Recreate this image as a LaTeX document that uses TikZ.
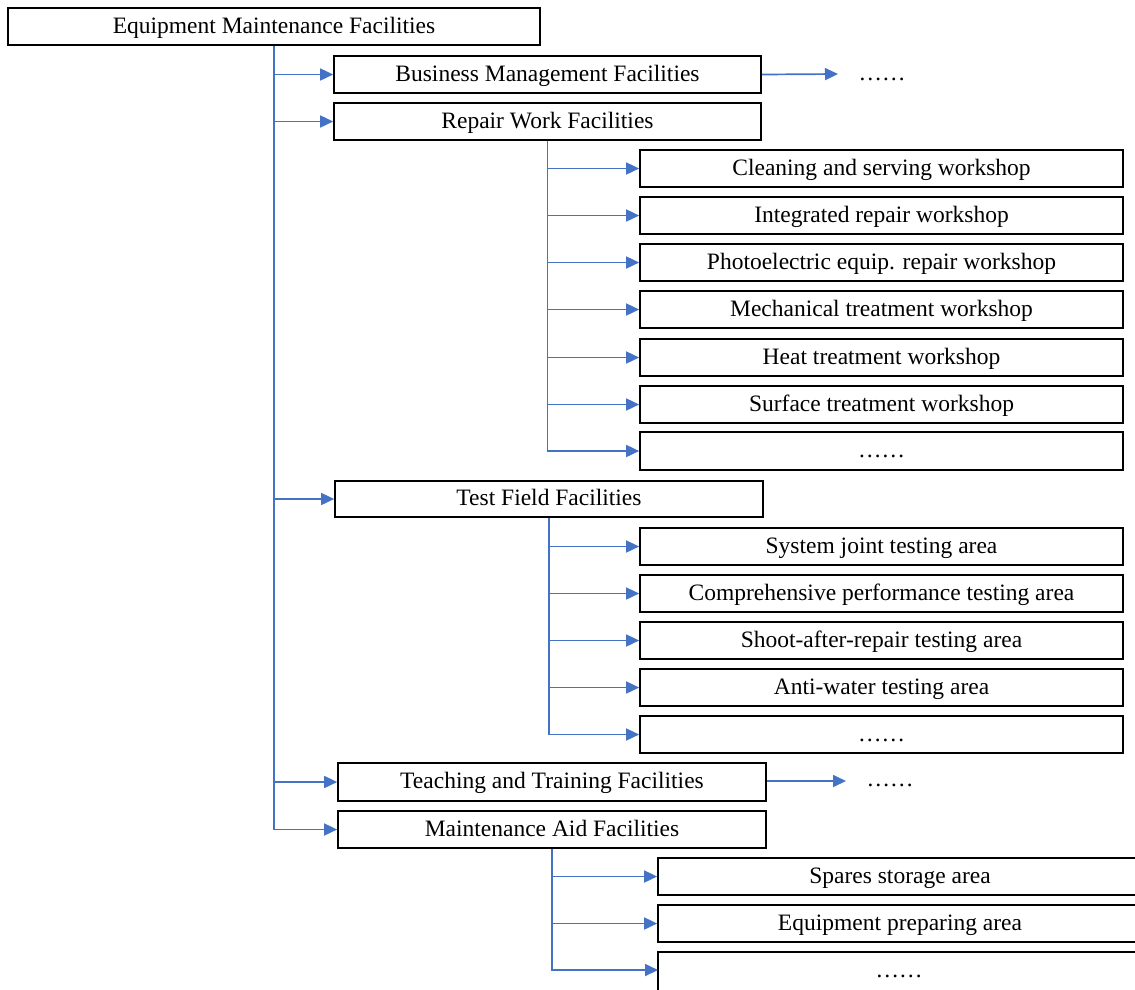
\documentclass[tikz,border=0pt]{standalone}
\usepackage{fontspec}
\setmainfont{Liberation Serif}
\usetikzlibrary{arrows.meta}
\definecolor{lblue}{RGB}{68,114,196}
\begin{document}
\begin{tikzpicture}[x=1pt,y=-1pt,
  box/.style={draw=black,line width=1.7pt,inner sep=0pt,align=center,font=\fontsize{23.5}{28}\selectfont,text height=17.6pt,text depth=4.6pt},
  conn/.style={draw=lblue,line width=1.7pt,-{Triangle[length=13pt,width=12pt]}},
  dots/.style={anchor=base,inner sep=0pt,font=\fontsize{23.5}{28}\selectfont}]
\useasboundingbox (0,0) rectangle (1135,989);
\clip (0,0) rectangle (1135,989);
\newcommand{\bx}[6]{\node[box,minimum width={#4-#2},minimum height={#5-#3}] (#1) at ({(#2+#4)/2},{(#3+#5)/2}) {#6};}
\bx{root}{8}{8}{540}{45}{Equipment Maintenance Facilities}
\bx{bm}{334}{56}{761}{93}{Business Management Facilities}
\bx{rw}{334}{103}{761}{140}{Repair Work Facilities}
\bx{r1}{640}{150}{1123}{187}{Cleaning and serving workshop}
\bx{r2}{640}{197}{1123}{234}{Integrated repair workshop}
\bx{r3}{640}{244}{1123}{281}{Photoelectric equip. repair workshop}
\bx{r4}{640}{291}{1123}{328}{Mechanical treatment workshop}
\bx{r5}{640}{339}{1123}{376}{Heat treatment workshop}
\bx{r6}{640}{386}{1123}{423}{Surface treatment workshop}
\bx{r7}{640}{432}{1123}{470}{……}
\bx{tf}{335}{481}{763}{517}{Test Field Facilities}
\bx{t1}{640}{528}{1123}{565}{System joint testing area}
\bx{t2}{640}{575}{1123}{612}{Comprehensive performance testing area}
\bx{t3}{640}{622}{1123}{659}{Shoot-after-repair testing area}
\bx{t4}{640}{669}{1123}{706}{Anti-water testing area}
\bx{t5}{640}{716}{1123}{753}{……}
\bx{tt}{338}{763}{766}{801}{Teaching and Training Facilities}
\bx{ma}{338}{811}{766}{848}{Maintenance Aid Facilities}
\bx{m1}{658}{858}{1142}{895}{Spares storage area}
\bx{m2}{658}{905}{1142}{942}{Equipment preparing area}
\bx{m3}{658}{952}{1142}{1000}{}
\node[dots] (m3d) at (899,977) {……};
\node[dots] (bmd) at (882,80) {……};
\node[dots] (ttd) at (890,786) {……};
\coordinate (bmdw) at (838,74);
\coordinate (ttdw) at (846,781);
\coordinate (m3w) at (658,970);
\foreach \c in {bm,rw,tf,tt,ma} \draw[conn] (root.south) |- (\c.west);
\foreach \c in {r1,r2,r3,r4,r5,r6,r7} \draw[conn] (rw.south) |- (\c.west);
\foreach \c in {t1,t2,t3,t4,t5} \draw[conn] (tf.south) |- (\c.west);
\foreach \c in {m1,m2} \draw[conn] (ma.south) |- (\c.west);
\draw[conn] (ma.south) |- (m3w);
\draw[conn] (bm.east) -- (bmdw);
\draw[conn] (tt.east |- ttdw) -- (ttdw);
\end{tikzpicture}
\end{document}
